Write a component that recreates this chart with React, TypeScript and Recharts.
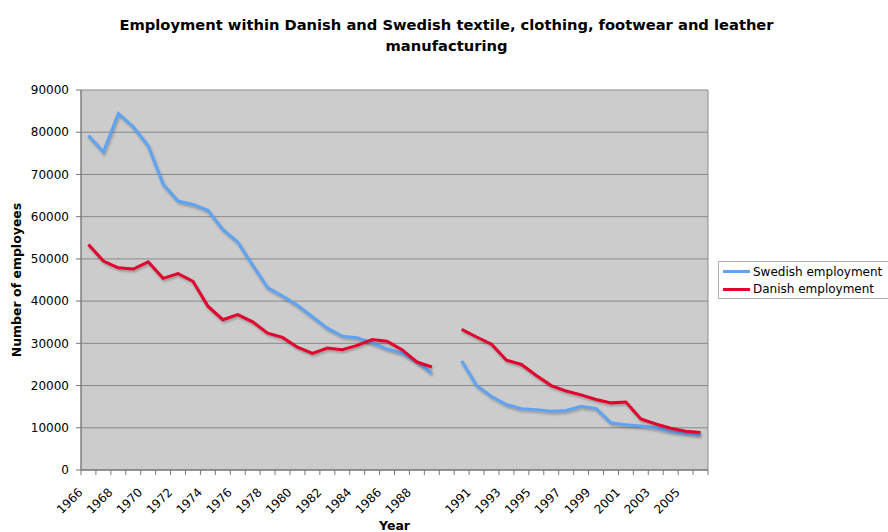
import { LineChart, Line, XAxis, YAxis, CartesianGrid, Legend } from 'recharts';

// category labels; the blank slot is the gap between 1989 and 1990
const categories = [
  '1966', '1967', '1968', '1969', '1970', '1971', '1972', '1973', '1974', '1975', '1976', '1977',
  '1978', '1979', '1980', '1981', '1982', '1983', '1984', '1985', '1986', '1987', '1988', '1989',
  '',
  '1990', '1991', '1992', '1993', '1994', '1995', '1996', '1997', '1998', '1999', '2000', '2001',
  '2002', '2003', '2004', '2005', '2006',
];

const swedish = [
  79200, 75300, 84400, 81300, 76800, 67700, 63700, 62900, 61500, 57000, 54000, 48500,
  43200, 41200, 39000, 36300, 33600, 31700, 31300, 30100, 28700, 27700, 25600, 22900,
  null,
  25800, 20000, 17400, 15500, 14500, 14300, 13900, 14100, 15100, 14600, 11200, 10700,
  10400, 10000, 9100, 8700, 8300,
];

const danish = [
  53400, 49500, 47900, 47600, 49300, 45400, 46500, 44700, 38800, 35600, 36800, 35100,
  32400, 31400, 29100, 27600, 28900, 28500, 29500, 30900, 30500, 28500, 25600, 24400,
  null,
  33300, 31500, 29800, 26000, 25000, 22400, 20000, 18700, 17800, 16700, 15900, 16100,
  12100, 10900, 9900, 9200, 8900,
];

const yTicks = [0, 10000, 20000, 30000, 40000, 50000, 60000, 70000, 80000, 90000];

const series = [
  { key: 'swedish', name: 'Swedish employment', color: '#5fa3f3' },
  { key: 'danish', name: 'Danish employment', color: '#e3002c' },
];

const data = categories.map((year, i) => ({ i, year, swedish: swedish[i], danish: danish[i] }));

// tick marks sit on category boundaries, labels on every other category centre
const xTicks: number[] = [];
categories.forEach((_, i) => {
  xTicks.push(i - 0.5);
  if (i % 2 === 0) xTicks.push(i);
});
xTicks.push(categories.length - 0.5);

const XTick = (props: any) => {
  const { x, y, payload } = props;
  const v = payload.value;
  if (!Number.isInteger(v)) {
    return <line x1={x} y1={y} x2={x} y2={y + 5} stroke="#777" />;
  }
  const lx = x - 5;
  const ly = y + 23;
  return (
    <text x={lx} y={ly} transform={`rotate(-45 ${lx} ${ly})`} textAnchor="end" fontSize={12} fill="#000">
      {categories[v]}
    </text>
  );
};

const YLabel = (props: any) => {
  const { viewBox } = props;
  const cx = viewBox.x + 21;
  const cy = viewBox.y + viewBox.height / 2;
  return (
    <text x={cx} y={cy} transform={`rotate(-90 ${cx} ${cy})`} textAnchor="middle" fontSize={12.5} fontWeight="bold" fill="#000">
      Number of employees
    </text>
  );
};

const LegendBox = () => (
  <div style={{ border: '1px solid #b0b0b0', borderRight: 'none', height: 35, padding: '1px 0 0 4px', fontSize: 12, color: '#000' }}>
    {series.map(s => (
      <div key={s.key} style={{ display: 'flex', alignItems: 'center', height: 17.5, whiteSpace: 'nowrap' }}>
        <span style={{ display: 'inline-block', width: 27, height: 3, background: s.color, marginRight: 3 }} />
        {s.name}
      </div>
    ))}
  </div>
);

export default function App() {
  return (
    <div style={{ position: 'absolute', left: 0, top: 0, width: 888, height: 532, background: '#fff', fontFamily: 'DejaVu Sans' }}>
      <div style={{ position: 'absolute', left: 0, top: 14, width: 893, textAlign: 'center', fontWeight: 'bold', fontSize: 14.7, lineHeight: '21px', color: '#000', zIndex: 2 }}>
        Employment within Danish and Swedish textile, clothing, footwear and leather<br />manufacturing
      </div>
      <LineChart width={888} height={532} data={data} margin={{ top: 90, right: 180, bottom: 0, left: 0 }}>
        <CartesianGrid
          fill="#cccccc"
          fillOpacity={1}
          stroke="#8a8a8a"
          verticalCoordinatesGenerator={({ offset }: any) => [offset.left, offset.left + offset.width]}
        />
        <XAxis
          type="number"
          dataKey="i"
          domain={[-0.5, categories.length - 0.5]}
          ticks={xTicks}
          interval={0}
          tick={<XTick />}
          tickLine={false}
          tickSize={0}
          tickMargin={0}
          height={62}
          stroke="#666"
          label={{ value: 'Year', position: 'insideBottom', offset: 2, style: { fontWeight: 'bold', fontSize: 12.5, fill: '#000' } }}
        />
        <YAxis
          domain={[0, 90000]}
          ticks={yTicks}
          interval={0}
          width={81}
          tickSize={5}
          tickMargin={7}
          stroke="#777"
          tick={{ fill: '#000', fontSize: 12 }}
          label={<YLabel />}
        />
        {series.map(s => (
          <Line
            key={s.key}
            dataKey={s.key}
            name={s.name}
            stroke={s.color}
            strokeWidth={3}
            dot={false}
            activeDot={false}
            isAnimationActive={false}
            style={{ filter: 'drop-shadow(1px 2px 1px rgba(0,0,0,0.25))' }}
          />
        ))}
        <Legend
          layout="vertical"
          align="center"
          verticalAlign="middle"
          wrapperStyle={{ left: 718, top: 261, width: 175 }}
          content={<LegendBox />}
        />
      </LineChart>
    </div>
  );
}
